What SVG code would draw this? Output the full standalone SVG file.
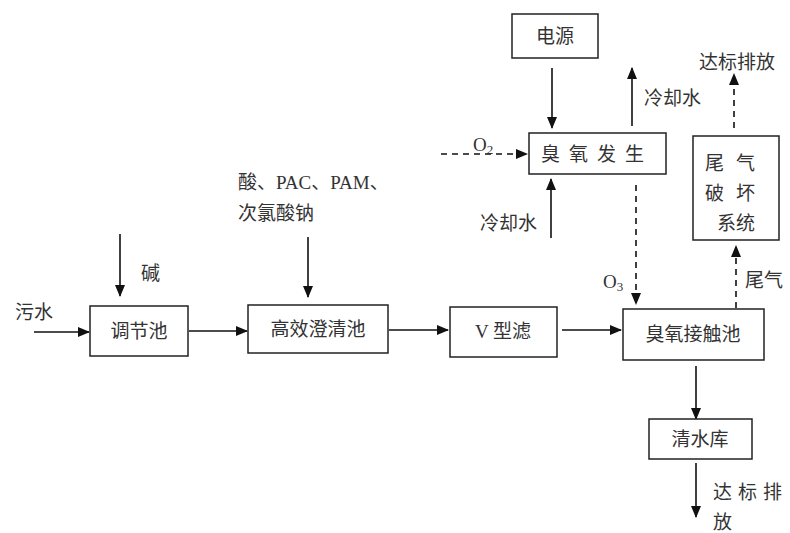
<svg xmlns="http://www.w3.org/2000/svg" width="790" height="533" viewBox="0 0 790 533">
<defs>
<marker id="ah" markerWidth="12" markerHeight="10" refX="11" refY="5" orient="auto" markerUnits="userSpaceOnUse">
<path d="M0,0 L12,5 L0,10 Z" fill="#111"/>
</marker>
<style>
.box{fill:#fff;stroke:#222;stroke-width:1.5}
.t{font-family:"Liberation Serif","Noto Sans CJK SC",serif;font-size:19px;fill:#333}
.s{stroke:#111;stroke-width:1.6;fill:none}
.d{stroke:#111;stroke-width:1.6;fill:none;stroke-dasharray:6,5}
</style>
</defs>
<rect width="790" height="533" fill="#fff"/>
<g id="connectors">
<line class="s" x1="34" y1="332" x2="89" y2="332" marker-end="url(#ah)"/>
<line class="s" x1="120" y1="234" x2="120" y2="296" marker-end="url(#ah)"/>
<line class="s" x1="189" y1="331" x2="247" y2="331" marker-end="url(#ah)"/>
<line class="s" x1="308" y1="237" x2="308" y2="297" marker-end="url(#ah)"/>
<line class="s" x1="389" y1="330" x2="448" y2="330" marker-end="url(#ah)"/>
<line class="s" x1="562" y1="330" x2="621" y2="330" marker-end="url(#ah)"/>
<line class="s" x1="552" y1="68" x2="552" y2="128" marker-end="url(#ah)"/>
<line class="s" x1="632" y1="126" x2="632" y2="68" marker-end="url(#ah)"/>
<line class="d" x1="441" y1="154" x2="527" y2="154" marker-end="url(#ah)"/>
<line class="s" x1="551" y1="238" x2="551" y2="179" marker-end="url(#ah)"/>
<line class="d" x1="636" y1="185" x2="636" y2="304" marker-end="url(#ah)"/>
<line class="d" x1="736" y1="308" x2="736" y2="246" marker-end="url(#ah)"/>
<line class="d" x1="734" y1="128" x2="734" y2="74" marker-end="url(#ah)"/>
<line class="s" x1="696" y1="366" x2="696" y2="419" marker-end="url(#ah)"/>
<line class="s" x1="696" y1="463" x2="696" y2="517" marker-end="url(#ah)"/>
</g>
<g id="labels">
<text class="t" x="15" y="319">污水</text>
<text class="t" x="141" y="280">碱</text>
<text class="t" x="238" y="189">酸、PAC、PAM、</text>
<text class="t" x="238" y="220">次氯酸钠</text>
<text class="t" x="473" y="151" font-size="17">O<tspan font-size="13" dy="3">2</tspan></text>
<text class="t" x="480" y="230">冷却水</text>
<text class="t" x="644" y="105">冷却水</text>
<text class="t" x="699" y="69">达标排放</text>
<text class="t" x="603" y="288" font-size="17">O<tspan font-size="13" dy="3">3</tspan></text>
<text class="t" x="745" y="287">尾气</text>
<text class="t" x="713" y="499" letter-spacing="6">达标排</text>
<text class="t" x="713" y="529">放</text>
</g>
<g id="n-power"><rect class="box" x="512" y="14" width="86" height="44"/><text class="t" x="555" y="43" text-anchor="middle">电源</text></g>
<g id="n-ozonegen"><rect class="box" x="529" y="133" width="137" height="41"/><text class="t" x="597" y="161" text-anchor="middle" letter-spacing="9">臭氧发生</text></g>
<g id="n-tailgas"><rect class="box" x="693" y="136" width="86" height="104"/>
<text class="t" x="736" y="170" text-anchor="middle" letter-spacing="12">尾气</text>
<text class="t" x="736" y="200" text-anchor="middle" letter-spacing="12">破坏</text>
<text class="t" x="736" y="230" text-anchor="middle">系统</text></g>
<g id="n-adjust"><rect class="box" x="90" y="306" width="98" height="50"/><text class="t" x="139" y="338" text-anchor="middle">调节池</text></g>
<g id="n-clarifier"><rect class="box" x="248" y="305" width="140" height="48"/><text class="t" x="318" y="336" text-anchor="middle">高效澄清池</text></g>
<g id="n-vfilter"><rect class="box" x="450" y="307" width="107" height="50"/><text class="t" x="503" y="338" text-anchor="middle">V 型滤</text></g>
<g id="n-contact"><rect class="box" x="623" y="309" width="141" height="51"/><text class="t" x="693" y="341" text-anchor="middle">臭氧接触池</text></g>
<g id="n-clearwater"><rect class="box" x="649" y="419" width="103" height="40"/><text class="t" x="700" y="446" text-anchor="middle">清水库</text></g>
</svg>
